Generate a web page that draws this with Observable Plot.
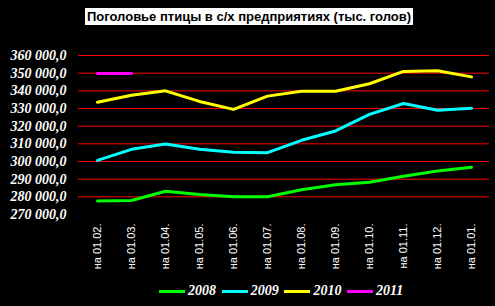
<!DOCTYPE html>
<html><head><meta charset="utf-8">
<script src="https://cdn.jsdelivr.net/npm/d3@7"></script>
<script src="https://cdn.jsdelivr.net/npm/@observablehq/plot@0.6"></script>
<style>
html,body{margin:0;padding:0;background:#000;}
#wrap{position:relative;width:495px;height:306px;background:#000;overflow:hidden;}
#title{position:absolute;left:85px;top:8px;width:328px;height:17px;background:#fff;color:#000;font:bold 13px "Liberation Sans",Arial,sans-serif;text-align:center;line-height:17px;white-space:nowrap;}
#legend{position:absolute;left:159px;top:282px;height:18px;display:flex;}
.item{display:flex;align-items:center;width:62.7px;}
.sw{width:26px;height:3px;margin-right:3px;}
.lt{color:#fff;font:italic bold 14px "Liberation Serif","Times New Roman",serif;}
svg{position:absolute;left:0;top:0;}
</style></head>
<body><div id="wrap"><div id="title">Поголовье птицы в с/х предприятиях (тыс. голов)</div><div id="legend"></div></div>
<script>
const months = ["на 01.02.","на 01.03.","на 01.04.","на 01.05.","на 01.06.","на 01.07.","на 01.08.","на 01.09.","на 01.10.","на 01.11.","на 01.12.","на 01.01."];
const years = ["2008","2009","2010","2011"];
const colors = ["#00ff00","#00ffff","#ffff00","#ff00ff"];
const v2008 = [277600,277900,283200,281300,280000,280000,284000,286800,288300,291600,294600,296800];
const v2009 = [300600,306900,309900,306900,305300,305000,312000,317300,326700,332800,329000,330100];
const v2010 = [333500,337500,340000,334000,329500,337000,339800,339800,344000,351000,351400,347900];
const v2011 = [349800,349800];
const yTicks = [270000,280000,290000,300000,310000,320000,330000,340000,350000,360000];
const gridTicks = [280000,290000,300000,310000,320000,330000,340000,350000,360000];

const series = [v2008, v2009, v2010, v2011];
const rows = [];
series.forEach((vals, i) => vals.forEach((v, j) => rows.push({year: years[i], month: months[j], value: v})));

const loc = d3.formatLocale({decimal: ",", thousands: " ", grouping: [3]});
const fmt = loc.format(",.1f");

const chart = Plot.plot({
  width: 495, height: 306,
  marginLeft: 78, marginRight: 6, marginTop: 55, marginBottom: 92,
  style: {background: "transparent", color: "#fff", overflow: "visible"},
  x: {type: "band", domain: months, padding: 0},
  y: {domain: [270000, 360000]},
  color: {domain: years, range: colors},
  marks: [
    Plot.ruleY(gridTicks, {stroke: "#ff0000", strokeWidth: 1}),
    Plot.axisY({ticks: yTicks, tickFormat: fmt, tickSize: 0, tickPadding: 12, fill: "#fff",
      fontFamily: "Liberation Serif", fontWeight: "bold", fontStyle: "italic", fontSize: 14, label: null}),
    Plot.axisX({tickSize: 0, tickRotate: -90, tickPadding: 9, fill: "#fff",
      fontFamily: "Liberation Sans", fontSize: 11, label: null}),
    Plot.line(rows, {x: "month", y: "value", z: "year", stroke: "year", strokeWidth: 3, strokeLinejoin: "round"})
  ]
});
document.getElementById("wrap").appendChild(chart);

const leg = document.getElementById("legend");
years.forEach((y, i) => {
  const it = document.createElement("div"); it.className = "item";
  const sw = document.createElement("div"); sw.className = "sw"; sw.style.background = colors[i];
  const t = document.createElement("span"); t.className = "lt"; t.textContent = y;
  it.appendChild(sw); it.appendChild(t); leg.appendChild(it);
});
</script></body></html>
